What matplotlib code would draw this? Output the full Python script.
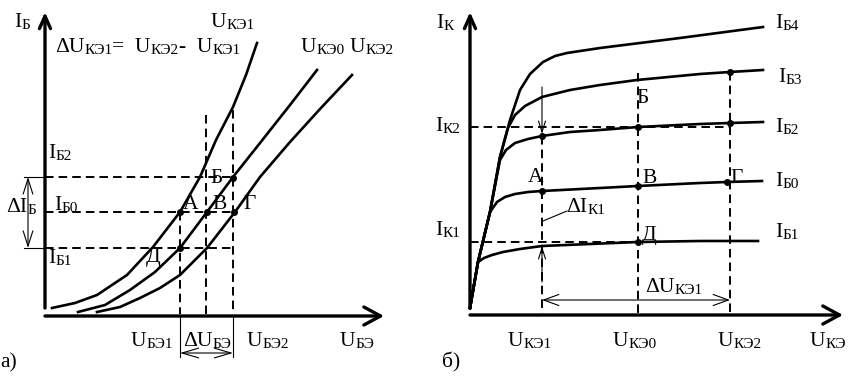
import matplotlib.pyplot as plt

plt.rcParams['font.family'] = ['Liberation Serif', 'DejaVu Serif']

# ---- panel a) input characteristics I_B(U_BE), pixel-like coords ----
ube1_x = [52, 75, 97, 127, 153, 180, 200, 216, 233, 246, 257]
ube1_y = [308, 303, 295, 275, 247, 212, 177, 140, 107, 75, 43]
ube0_x = [78, 105, 130, 155, 180, 207, 233, 260, 290, 317]
ube0_y = [312, 305, 290, 272, 248, 212, 177, 143, 105, 70]
ube2_x = [97, 120, 140, 160, 180, 207, 235, 260, 290, 320, 352]
ube2_y = [312, 307, 298, 288, 275, 248, 212, 177, 142, 109, 75]

# levels / projections, panel a)
ib_levels = [177, 212, 248]          # I_B2, I_B0, I_B1
ib_ends = [233, 235, 233]
ube_cols = [180, 206, 233]           # U_BE1, U_BE0, U_BE2
ube_tops = [212, 115, 110]
pts_a_x = [180, 207, 234, 233, 180]
pts_a_y = [212, 212, 212, 178, 248]

# ---- panel b) output characteristics I_K(U_KE) ----
ib4_x = [470, 478, 490, 500, 510, 520, 530, 543, 555, 567, 600, 680, 763]
ib4_y = [308, 262, 212, 157, 120, 90, 74, 62, 56, 53, 48, 38, 27]
ib3_x = [470, 478, 490, 500, 508, 515, 525, 542, 570, 600, 637, 700, 730, 763]
ib3_y = [308, 262, 212, 157, 128, 115, 106, 97, 90, 85, 80, 74, 72, 70]
ib2_x = [470, 478, 490, 500, 506, 515, 528, 542, 570, 600, 638, 700, 730, 763]
ib2_y = [308, 262, 212, 160, 150, 143, 139, 136, 132, 130, 127, 124, 123, 122]
ib0_x = [470, 478, 490, 497, 505, 515, 528, 542, 600, 638, 700, 727, 762]
ib0_y = [308, 262, 212, 202, 197, 194, 192, 191, 188, 186, 183, 182, 181]
ib1_x = [470, 478, 484, 492, 503, 520, 542, 590, 638, 700, 758]
ib1_y = [308, 262, 258, 255, 252, 249, 246, 244, 242, 241, 241]

ik_levels = [127, 242]               # I_K2, I_K1
ik_ends = [730, 638]
uke_cols = [542, 638, 730]           # U_KE1, U_KE0, U_KE2
uke_tops = [136, 73, 72]
pts_b_x = [542, 638, 730, 730, 542, 638, 727, 638]
pts_b_y = [136, 127, 123, 72, 191, 186, 182, 242]

fig = plt.figure(figsize=(8.53, 3.76), dpi=100)
ax = fig.add_axes([0, 0, 1, 1])
ax.set_xlim(0, 853)
ax.set_ylim(376, 0)
ax.axis('off')

K = 'black'
dash = (0, (4.4, 2.6))
FS_MAIN, FS_SUB = 15.5, 11


def arrow(p0, p1, style, lw):
    ax.annotate('', xy=p1, xytext=p0,
                arrowprops=dict(arrowstyle=style, lw=lw, color=K,
                                shrinkA=0, shrinkB=0))


def label(x, y, segs):
    # segs: list of (text, is_sub)
    first = None
    prev = None
    for txt, sub in segs:
        fs = FS_SUB if sub else FS_MAIN
        if first is None:
            t = ax.text(x, y, txt, fontsize=fs, va='baseline', ha='left')
            first = t
        else:
            t = ax.annotate(txt, xy=(1, 0), xycoords=(prev, first),
                            fontsize=fs, va='bottom', ha='left')
        prev = t


# axes
arrow((45, 308), (45, 12), '->,head_length=0.9,head_width=0.4', 2.4)
arrow((45, 316), (384, 316), '->,head_length=1.2,head_width=0.65', 2.4)
arrow((470, 308), (470, 12), '->,head_length=0.9,head_width=0.4', 2.4)
arrow((470, 315), (843, 315), '->,head_length=1.2,head_width=0.65', 2.4)

# panel a curves
for xs, ys in [(ube1_x, ube1_y), (ube0_x, ube0_y), (ube2_x, ube2_y)]:
    ax.plot(xs, ys, color=K, lw=1.9, solid_joinstyle='round')

for lev, end in zip(ib_levels, ib_ends):
    ax.plot([45, end], [lev, lev], color=K, lw=1.4, ls=dash)
for col, top in zip(ube_cols, ube_tops):
    ax.plot([col, col], [top, 314], color=K, lw=1.4, ls=dash)
ax.plot(pts_a_x, pts_a_y, 'o', color=K, ms=4)

# delta U_BE bracket
ax.plot([180, 180], [316, 357], color=K, lw=0.8)
ax.plot([233, 233], [316, 357], color=K, lw=0.8)
arrow((180, 353), (233, 353), '<->,head_length=1.2,head_width=0.35', 0.8)
# delta I_B bracket
ax.plot([24, 45], [177, 177], color=K, lw=0.8)
ax.plot([24, 45], [248, 248], color=K, lw=0.8)
arrow((28, 177), (28, 248), '<->,head_length=1.1,head_width=0.35', 0.8)

# panel b curves
for xs, ys in [(ib4_x, ib4_y), (ib3_x, ib3_y), (ib2_x, ib2_y),
               (ib0_x, ib0_y), (ib1_x, ib1_y)]:
    ax.plot(xs, ys, color=K, lw=1.9, solid_joinstyle='round')

for lev, end in zip(ik_levels, ik_ends):
    ax.plot([470, end], [lev, lev], color=K, lw=1.4, ls=dash)
for col, top in zip(uke_cols, uke_tops):
    ax.plot([col, col], [top, 313], color=K, lw=1.4, ls=dash)
ax.plot(pts_b_x, pts_b_y, 'o', color=K, ms=4)

arrow((542, 87), (542, 134), '->,head_length=0.8,head_width=0.25', 0.8)
arrow((542, 282), (542, 246), '->,head_length=0.8,head_width=0.25', 0.8)
ax.plot([543, 567], [221, 211], color=K, lw=0.8)
arrow((542, 300), (730, 300), '<->,head_length=1.1,head_width=0.4', 0.8)

# ---- texts panel a ----
label(14, 27, [('I', 0), ('Б', 1)])
label(211, 27, [('U', 0), ('КЭ1', 1)])
label(55, 52, [('ΔU', 0), ('КЭ1', 1), ('=  U', 0), ('КЭ2', 1), ('-  U', 0), ('КЭ1', 1)])
label(301, 52, [('U', 0), ('КЭ0', 1)])
label(350, 52, [('U', 0), ('КЭ2', 1)])
label(48, 158, [('I', 0), ('Б2', 1)])
label(54, 210, [('I', 0), ('Б0', 1)])
label(6, 212, [('ΔI', 0), ('Б', 1)])
label(48, 263, [('I', 0), ('Б1', 1)])
label(183, 209, [('А', 0)])
label(212, 209, [('В', 0)])
label(243, 209, [('Г', 0)])
label(210, 183, [('Б', 0)])
label(146, 262, [('Д', 0)])
label(131, 346, [('U', 0), ('БЭ1', 1)])
label(183, 346, [('ΔU', 0), ('БЭ', 1)])
label(247, 346, [('U', 0), ('БЭ2', 1)])
label(340, 346, [('U', 0), ('БЭ', 1)])
label(0, 367, [('а)', 0)])

# ---- texts panel b ----
label(436, 28, [('I', 0), ('К', 1)])
label(435, 131, [('I', 0), ('К2', 1)])
label(435, 235, [('I', 0), ('К1', 1)])
label(775, 28, [('I', 0), ('Б4', 1)])
label(778, 82, [('I', 0), ('Б3', 1)])
label(775, 132, [('I', 0), ('Б2', 1)])
label(775, 186, [('I', 0), ('Б0', 1)])
label(775, 237, [('I', 0), ('Б1', 1)])
label(636, 103, [('Б', 0)])
label(528, 182, [('А', 0)])
label(642, 183, [('В', 0)])
label(730, 183, [('Г', 0)])
label(642, 240, [('Д', 0)])
label(566, 212, [('ΔI', 0), ('К1', 1)])
label(645, 292, [('ΔU', 0), ('КЭ1', 1)])
label(508, 346, [('U', 0), ('КЭ1', 1)])
label(613, 346, [('U', 0), ('КЭ0', 1)])
label(718, 346, [('U', 0), ('КЭ2', 1)])
label(810, 346, [('U', 0), ('КЭ', 1)])
label(442, 367, [('б)', 0)])

fig.savefig('out.png', dpi=100)
